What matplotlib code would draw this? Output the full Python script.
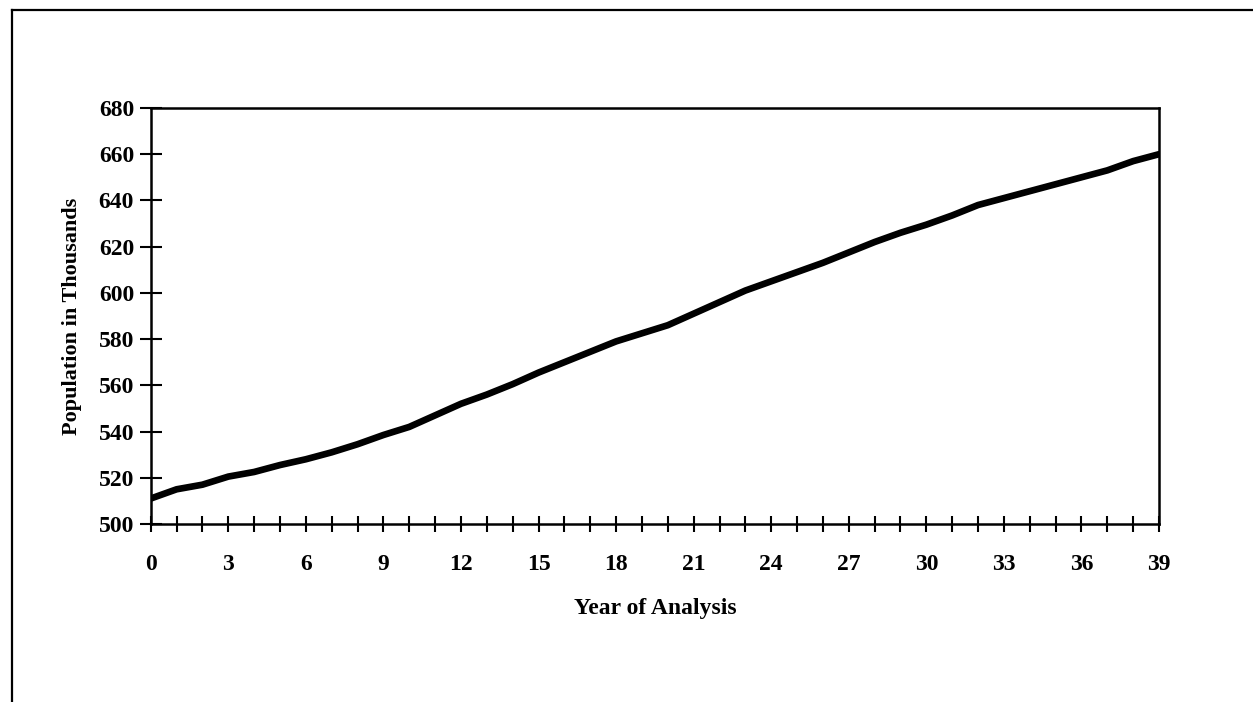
import matplotlib
matplotlib.use("Agg")
import matplotlib.pyplot as plt
from matplotlib.lines import Line2D

years = list(range(40))
population = [511, 515, 517, 520.5, 522.5, 525.5, 528, 531, 534.5, 538.5,
              542, 547, 552, 556, 560.5, 565.5, 570, 574.5, 579, 582.5,
              586, 591, 596, 601, 605, 609, 613, 617.5, 622, 626,
              629.5, 633.5, 638, 641, 644, 647, 650, 653, 657, 660]
year_ticks = list(range(0, 40, 3))
pop_ticks = list(range(500, 681, 20))

plt.rcParams['font.family'] = ['Liberation Serif', 'DejaVu Serif']
plt.rcParams['font.weight'] = 'bold'

fig = plt.figure(figsize=(12.53, 7.02), dpi=100)
ax = fig.add_axes([0.1203, 0.2536, 0.8047, 0.5926])

ax.plot(years, population, color='black', lw=4.8, solid_capstyle='round')

ax.set_xlim(0, 39)
ax.set_ylim(500, 680)
ax.set_xticks(years)
ax.set_xticklabels([str(y) if y in year_ticks else '' for y in years])
ax.set_yticks(pop_ticks)

for s in ax.spines.values():
    s.set_linewidth(1.8)
ax.tick_params(axis='x', direction='inout', length=11, width=1.5,
               pad=16, labelsize=17)
ax.tick_params(axis='y', direction='inout', length=16, width=1.5,
               pad=4, labelsize=17)
for lbl in ax.get_xticklabels() + ax.get_yticklabels():
    lbl.set_fontweight('bold')

ax.set_xlabel('Year of Analysis', fontsize=17, fontweight='bold', labelpad=17)
ax.set_ylabel('Population in Thousands', fontsize=16, fontweight='bold',
              labelpad=12)

# frame lines along the top and left edge of the page
fig.add_artist(Line2D([0.0096, 0.0096], [0.0, 0.986], color='black', lw=1.6,
                      transform=fig.transFigure))
fig.add_artist(Line2D([0.0096, 1.0], [0.986, 0.986], color='black', lw=1.6,
                      transform=fig.transFigure))

fig.savefig('out.png', dpi=100, facecolor='white')
